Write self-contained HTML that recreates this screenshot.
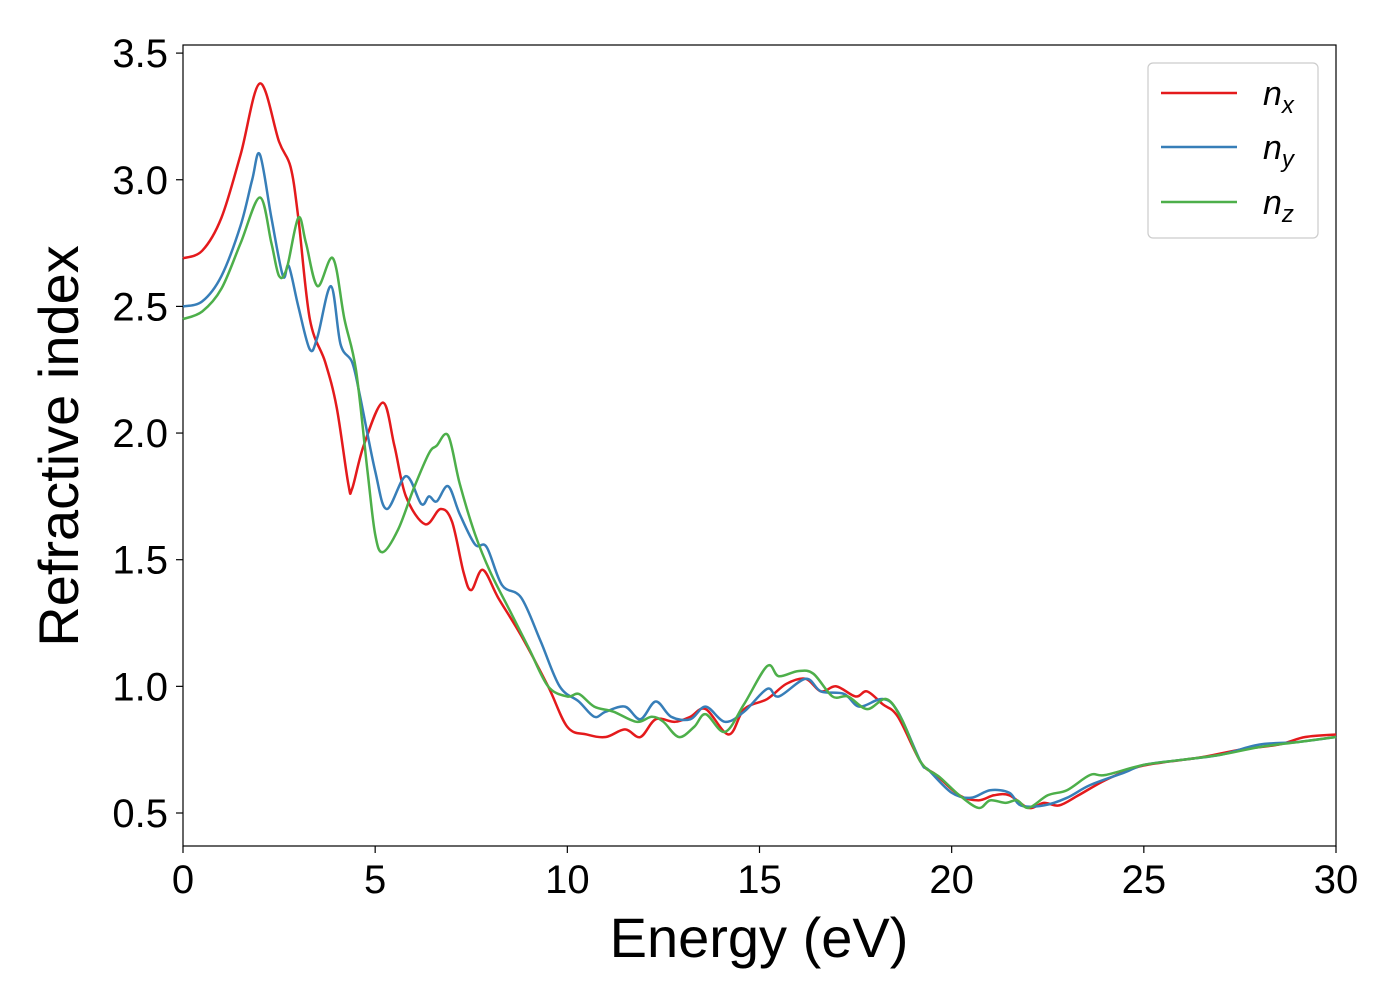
<!DOCTYPE html>
<html><head><meta charset="utf-8"><style>
body{margin:0;background:#fff;}
svg{font-family:"Liberation Sans",sans-serif;}
</style></head><body>
<svg id="chart" width="1400" height="1000">
<rect x="183" y="45" width="1153" height="801" fill="#fff" stroke="#000" stroke-width="1.2"/>
<g id="ticks"></g>
<g id="lines"></g>
<text x="759" y="957" font-size="56" text-anchor="middle">Energy (eV)</text>
<text transform="translate(78,446) rotate(-90)" font-size="56" text-anchor="middle">Refractive index</text>
<g>
<rect x="1148" y="63" width="170" height="175" rx="5" fill="#fff" stroke="#ccc" stroke-width="1.2"/>
<line x1="1161" y1="93" x2="1237" y2="93" stroke="#e41a1c" stroke-width="2.5"/>
<text x="1263" y="105" font-size="34" font-style="italic">n<tspan font-size="24" dy="8">x</tspan></text>
<line x1="1161" y1="147" x2="1237" y2="147" stroke="#377eb8" stroke-width="2.5"/>
<text x="1263" y="159" font-size="34" font-style="italic">n<tspan font-size="24" dy="8">y</tspan></text>
<line x1="1161" y1="202" x2="1237" y2="202" stroke="#4daf4a" stroke-width="2.5"/>
<text x="1263" y="214" font-size="34" font-style="italic">n<tspan font-size="24" dy="8">z</tspan></text>
</g>
</svg>
<script>
const xTicks=[0,5,10,15,20,25,30];
const yTicks=[0.5,1.0,1.5,2.0,2.5,3.0,3.5];
const yTickLabels=["0.5","1.0","1.5","2.0","2.5","3.0","3.5"];
const nxE=[0,0.5,1,1.5,2,2.5,2.8,3,3.3,3.7,4,4.3,4.4,4.7,5.2,5.5,5.8,6.3,6.7,7,7.3,7.5,7.8,8.2,8.8,9.5,10,10.5,11,11.5,11.9,12.3,12.8,13.2,13.6,14.2,14.6,15.2,15.7,16.2,16.6,17,17.5,17.8,18.2,18.6,19.2,19.6,20.2,20.7,21.1,21.5,22,22.4,22.8,23.3,24,24.8,25.5,26.5,27.5,28.5,29.2,30];
const nxV=[2.69,2.72,2.85,3.1,3.38,3.15,3.05,2.85,2.45,2.28,2.1,1.8,1.78,1.95,2.12,1.95,1.75,1.64,1.70,1.65,1.45,1.38,1.46,1.35,1.2,1.0,0.84,0.81,0.80,0.83,0.80,0.87,0.86,0.88,0.91,0.81,0.91,0.95,1.01,1.03,0.98,1.00,0.96,0.98,0.93,0.88,0.70,0.65,0.57,0.55,0.57,0.57,0.52,0.54,0.53,0.57,0.63,0.68,0.70,0.72,0.75,0.77,0.80,0.81];
const nyE=[0,0.5,1,1.5,1.8,2,2.3,2.6,2.75,3,3.3,3.5,3.85,4.1,4.4,4.6,5,5.3,5.8,6.2,6.4,6.6,6.9,7.2,7.6,7.9,8.3,8.8,9.3,9.8,10.3,10.7,11,11.5,11.9,12.3,12.7,13.2,13.6,14.1,14.6,15.2,15.5,16.2,16.6,17.2,17.6,18.2,18.6,19.2,19.4,20,20.5,21,21.5,21.8,22.4,23,23.6,24.5,25,26,27,28,29,30];
const nyV=[2.50,2.52,2.62,2.82,3.0,3.10,2.85,2.62,2.66,2.50,2.33,2.38,2.58,2.35,2.28,2.15,1.85,1.70,1.83,1.72,1.75,1.73,1.79,1.68,1.56,1.55,1.40,1.35,1.18,1.00,0.94,0.88,0.90,0.92,0.87,0.94,0.88,0.87,0.92,0.86,0.90,0.99,0.96,1.03,0.98,0.97,0.92,0.95,0.90,0.70,0.67,0.58,0.56,0.59,0.58,0.53,0.53,0.56,0.61,0.66,0.69,0.71,0.73,0.77,0.78,0.80];
const nzE=[0,0.5,1,1.5,2,2.3,2.5,2.7,3,3.2,3.5,3.9,4.2,4.5,4.8,5,5.2,5.6,6,6.4,6.6,6.9,7.2,7.6,8,8.5,9,9.5,10,10.3,10.7,11.2,11.8,12.2,12.5,12.9,13.3,13.6,14.1,14.6,15.2,15.5,16,16.4,16.9,17.3,17.8,18.3,18.7,19.2,19.7,20.2,20.7,21,21.4,21.7,22,22.5,23,23.6,24,25,26,27,28,29,30];
const nzV=[2.45,2.48,2.57,2.75,2.93,2.75,2.62,2.65,2.85,2.75,2.58,2.69,2.45,2.25,1.85,1.60,1.53,1.62,1.78,1.92,1.95,1.99,1.80,1.60,1.45,1.30,1.15,1.00,0.96,0.97,0.92,0.90,0.86,0.88,0.86,0.80,0.84,0.89,0.82,0.93,1.08,1.04,1.06,1.05,0.96,0.96,0.91,0.95,0.87,0.70,0.64,0.57,0.52,0.55,0.54,0.55,0.52,0.57,0.59,0.65,0.65,0.69,0.71,0.73,0.76,0.78,0.80];
const X=e=>183+e*(1153/30);
const Y=v=>813-(v-0.5)*253.3;
const NS="http://www.w3.org/2000/svg";
const tg=document.getElementById('ticks');
xTicks.forEach(t=>{
  const l=document.createElementNS(NS,'line');
  l.setAttribute('x1',X(t));l.setAttribute('x2',X(t));l.setAttribute('y1',846);l.setAttribute('y2',853);l.setAttribute('stroke','#000');l.setAttribute('stroke-width','1.2');
  
  
  tg.appendChild(l);
  const tx=document.createElementNS(NS,'text');
  tx.setAttribute('x',X(t));tx.setAttribute('y',893);tx.setAttribute('font-size','40');tx.setAttribute('text-anchor','middle');
  tx.textContent=t;
  
  
  tg.appendChild(tx);
});
yTicks.forEach((t,i)=>{
  const l=document.createElementNS(NS,'line');
  l.setAttribute('x1',176);l.setAttribute('x2',183);l.setAttribute('y1',Y(t));l.setAttribute('y2',Y(t));l.setAttribute('stroke','#000');l.setAttribute('stroke-width','1.2');
  
  
  tg.appendChild(l);
  const tx=document.createElementNS(NS,'text');
  tx.setAttribute('x',168);tx.setAttribute('y',Y(t)+14);tx.setAttribute('font-size','40');tx.setAttribute('text-anchor','end');
  tx.textContent=yTickLabels[i];
  
  
  tg.appendChild(tx);
});
function pathFor(E,V){
  const p=E.map((e,i)=>[X(e),Y(V[i])]);
  let d='M'+p[0][0]+','+p[0][1];
  for(let i=0;i<p.length-1;i++){
    const p0=p[i-1]||p[i],p1=p[i],p2=p[i+1],p3=p[i+2]||p2;
    const c1=[p1[0]+(p2[0]-p0[0])/6,p1[1]+(p2[1]-p0[1])/6];
    const c2=[p2[0]-(p3[0]-p1[0])/6,p2[1]-(p3[1]-p1[1])/6];
    d+=' C'+c1+' '+c2+' '+p2;
  }
  return d;
}
const lg=document.getElementById('lines');
[[nxE,nxV,'#e41a1c','series-nx'],[nyE,nyV,'#377eb8','series-ny'],[nzE,nzV,'#4daf4a','series-nz']].forEach(s=>{
  const pa=document.createElementNS(NS,'path');
  pa.setAttribute('d',pathFor(s[0],s[1]));pa.setAttribute('fill','none');pa.setAttribute('stroke',s[2]);pa.setAttribute('stroke-width','2.5');
  
  
  lg.appendChild(pa);
});
</script>
</body></html>
